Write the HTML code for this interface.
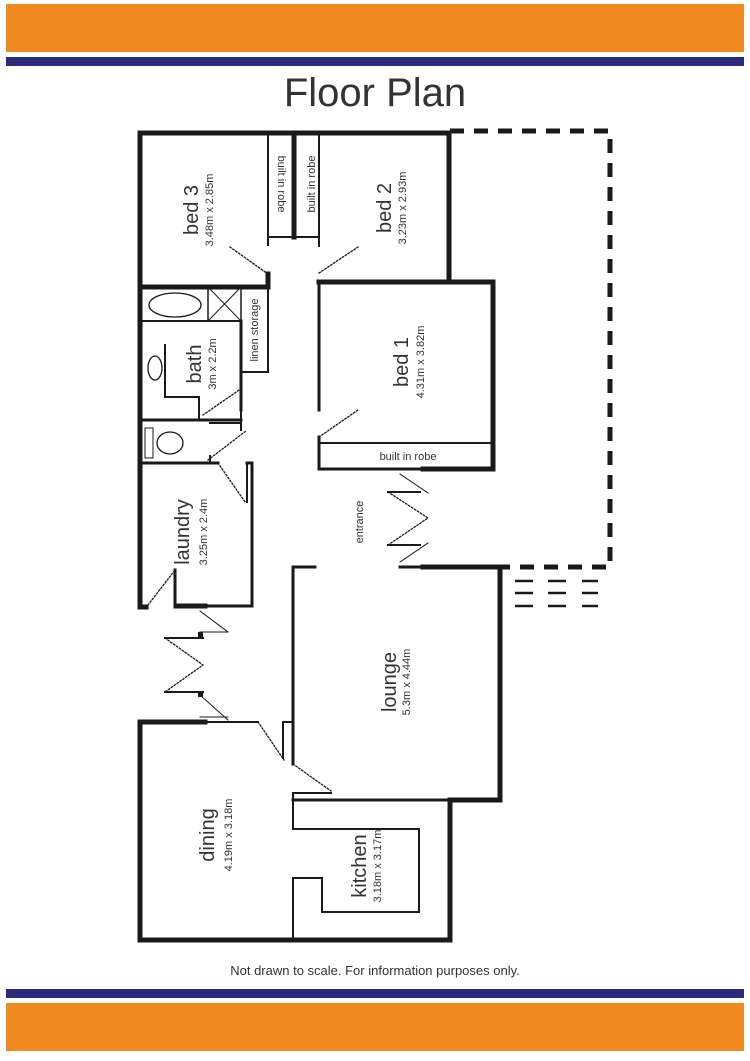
<!DOCTYPE html>
<html><head><meta charset="utf-8"><style>
html,body{margin:0;padding:0;background:#fff;width:750px;height:1061px;overflow:hidden}
svg{display:block}
text{font-family:"Liberation Sans","DejaVu Sans",sans-serif;fill:#333}
</style></head><body>
<svg width="750" height="1061" viewBox="0 0 750 1061" xmlns="http://www.w3.org/2000/svg">
<rect x="6" y="4" width="738" height="48" fill="#f18a21"/>
<rect x="6" y="57" width="738" height="9" fill="#2b2a7c"/>
<rect x="6" y="989" width="738" height="9" fill="#2b2a7c"/>
<rect x="6" y="1003" width="738" height="48" fill="#f18a21"/>
<text x="375" y="106" font-size="40" text-anchor="middle" fill="#222" style="font-weight:300">Floor Plan</text>
<text x="375" y="975" font-size="13" text-anchor="middle" fill="#444">Not drawn to scale.  For information purposes only.</text>

<g stroke="#1a1a1a" fill="none" stroke-linecap="square">
<!-- thick walls -->
<g stroke-width="5">
<polyline points="140,133 449,133 449,282 493,282 493,469 423,469"/>
<line x1="140" y1="133" x2="140" y2="607"/>
<line x1="140" y1="607" x2="146" y2="607"/>
<line x1="319" y1="282" x2="449" y2="282"/>
<line x1="294" y1="133" x2="294" y2="237"/>
<line x1="268" y1="274" x2="268" y2="287"/>
<line x1="140" y1="287" x2="268" y2="287"/>
<line x1="177" y1="606" x2="205" y2="606"/>
<polyline points="205,722 140,722 140,940 450,940 450,800 500,800 500,567 423,567"/>
</g>
<g stroke-width="3">
<line x1="319" y1="282" x2="319" y2="410"/>
<line x1="319" y1="437" x2="319" y2="469"/>
<line x1="319" y1="469" x2="423" y2="469"/>
<line x1="241" y1="321" x2="241" y2="410"/>
<line x1="140" y1="420" x2="241" y2="420"/>
<line x1="140" y1="463" x2="218" y2="463"/>
<polyline points="205,606 252,606 252,463 247,463"/>
<polyline points="293,567 293,764"/>
<line x1="293" y1="567" x2="315" y2="567"/>
<line x1="400" y1="567" x2="423" y2="567"/>
<line x1="293" y1="800" x2="450" y2="800"/>
<line x1="175" y1="570" x2="175" y2="607"/>
</g>
<g stroke-width="2">
<line x1="268" y1="133" x2="268" y2="245"/>
<line x1="319" y1="133" x2="319" y2="246"/>
<line x1="268" y1="237" x2="319" y2="237"/>
<line x1="319" y1="443" x2="490" y2="443"/>
<rect x="208" y="287" width="33" height="34" stroke-width="1.5"/>
<line x1="208" y1="287" x2="241" y2="321" stroke-width="1"/>
<line x1="241" y1="287" x2="208" y2="321" stroke-width="1"/>
<line x1="140" y1="321" x2="241" y2="321"/>
<polyline points="241,287 268,287 268,372 241,372"/>
<polyline points="165,345 165,397 199,397 199,418"/>
<line x1="247" y1="464" x2="247" y2="502"/>
<line x1="205" y1="722" x2="258" y2="722"/>
<line x1="283" y1="722" x2="283" y2="758"/>
<line x1="283" y1="722" x2="293" y2="722"/>
<polyline points="293,793 293,829 419,829 419,912 322,912 322,878 293,878 293,940"/>
<line x1="293" y1="793" x2="331" y2="793"/>
<line x1="241" y1="405" x2="241" y2="430"/>
<line x1="210" y1="423" x2="241" y2="423"/>
<line x1="210" y1="463" x2="210" y2="456"/>
</g>
<ellipse cx="175" cy="305" rx="26" ry="12" stroke-width="1.3"/>
<ellipse cx="155" cy="368" rx="7" ry="12" stroke-width="1.3"/>
<rect x="145" y="428" width="8" height="30" stroke-width="1"/>
<ellipse cx="170" cy="443" rx="13" ry="11" stroke-width="1.3"/>
<!-- dotted door swings -->
<g stroke-width="1.3" stroke-dasharray="1.5,2">
<line x1="230" y1="247" x2="268" y2="274"/>
<line x1="319" y1="273" x2="358" y2="247"/>
<line x1="319" y1="437" x2="358" y2="410"/>
<line x1="203" y1="415" x2="242" y2="388"/>
<line x1="208" y1="460" x2="246" y2="431"/>
<line x1="218" y1="463" x2="245" y2="502"/>
<line x1="148" y1="605" x2="175" y2="570"/>
<line x1="258" y1="722" x2="284" y2="760"/>
<line x1="293" y1="764" x2="331" y2="791"/>
<polyline points="388,492 428,518 388,545"/>
<polyline points="165,638 203,665 165,692"/>
</g>
<!-- bifold leaves -->
<g stroke-width="1">
<line x1="400" y1="474" x2="428" y2="493"/>
<line x1="400" y1="562" x2="428" y2="543"/>
<line x1="200" y1="611" x2="228" y2="632"/>
<line x1="200" y1="695" x2="228" y2="720"/>
<line x1="200" y1="632" x2="228" y2="632"/>
<line x1="200" y1="717" x2="228" y2="717"/>
</g>
<g stroke-width="2">
<line x1="388" y1="492" x2="420" y2="492"/>
<line x1="388" y1="545" x2="420" y2="545"/>
<line x1="165" y1="638" x2="203" y2="638"/>
<line x1="165" y1="692" x2="203" y2="692"/>
</g>
<!-- dashed outline -->
<g stroke-width="5" stroke-dasharray="14,10" stroke-linecap="butt">
<polyline points="450,131 610,131 610,567 500,567"/>
</g>
<g stroke-width="2.5" stroke-linecap="butt">
<line x1="515" y1="581" x2="533" y2="581"/><line x1="548" y1="581" x2="566" y2="581"/><line x1="582" y1="581" x2="598" y2="581"/>
<line x1="515" y1="593" x2="533" y2="593"/><line x1="548" y1="593" x2="566" y2="593"/><line x1="582" y1="593" x2="598" y2="593"/>
<line x1="515" y1="606" x2="533" y2="606"/><line x1="548" y1="606" x2="566" y2="606"/><line x1="582" y1="606" x2="598" y2="606"/>
</g>
</g>
<rect x="198" y="632" width="5" height="5" fill="#1a1a1a"/>
<rect x="198" y="692" width="5" height="5" fill="#1a1a1a"/>

<!-- labels -->
<g text-anchor="middle">
<text transform="translate(198,210) rotate(-90)" font-size="20">bed 3</text>
<text transform="translate(213,210) rotate(-90)" font-size="11">3.48m x 2.85m</text>
<text transform="translate(391,208) rotate(-90)" font-size="20">bed 2</text>
<text transform="translate(406,208) rotate(-90)" font-size="11">3.23m x 2.93m</text>
<text transform="translate(408,362) rotate(-90)" font-size="20">bed 1</text>
<text transform="translate(424,362) rotate(-90)" font-size="11">4.31m x 3.82m</text>
<text transform="translate(201,364) rotate(-90)" font-size="20">bath</text>
<text transform="translate(216,364) rotate(-90)" font-size="11">3m x 2.2m</text>
<text transform="translate(189,532) rotate(-90)" font-size="20">laundry</text>
<text transform="translate(207,532) rotate(-90)" font-size="11">3.25m x 2.4m</text>
<text transform="translate(396,682) rotate(-90)" font-size="20">lounge</text>
<text transform="translate(410,682) rotate(-90)" font-size="11">5.3m x 4.44m</text>
<text transform="translate(214,835) rotate(-90)" font-size="20">dining</text>
<text transform="translate(232,835) rotate(-90)" font-size="11">4.19m x 3.18m</text>
<text transform="translate(366,866) rotate(-90)" font-size="20">kitchen</text>
<text transform="translate(381,866) rotate(-90)" font-size="11">3.18m x 3.17m</text>
<text transform="translate(363,522) rotate(-90)" font-size="11">entrance</text>
<text transform="translate(278,184) rotate(90)" font-size="11">built in robe</text>
<text transform="translate(315,184) rotate(-90)" font-size="11">built in robe</text>
<text transform="translate(258,330) rotate(-90)" font-size="11">linen storage</text>
<text x="408" y="460" font-size="11">built in robe</text>
</g>
</svg>
</body></html>
